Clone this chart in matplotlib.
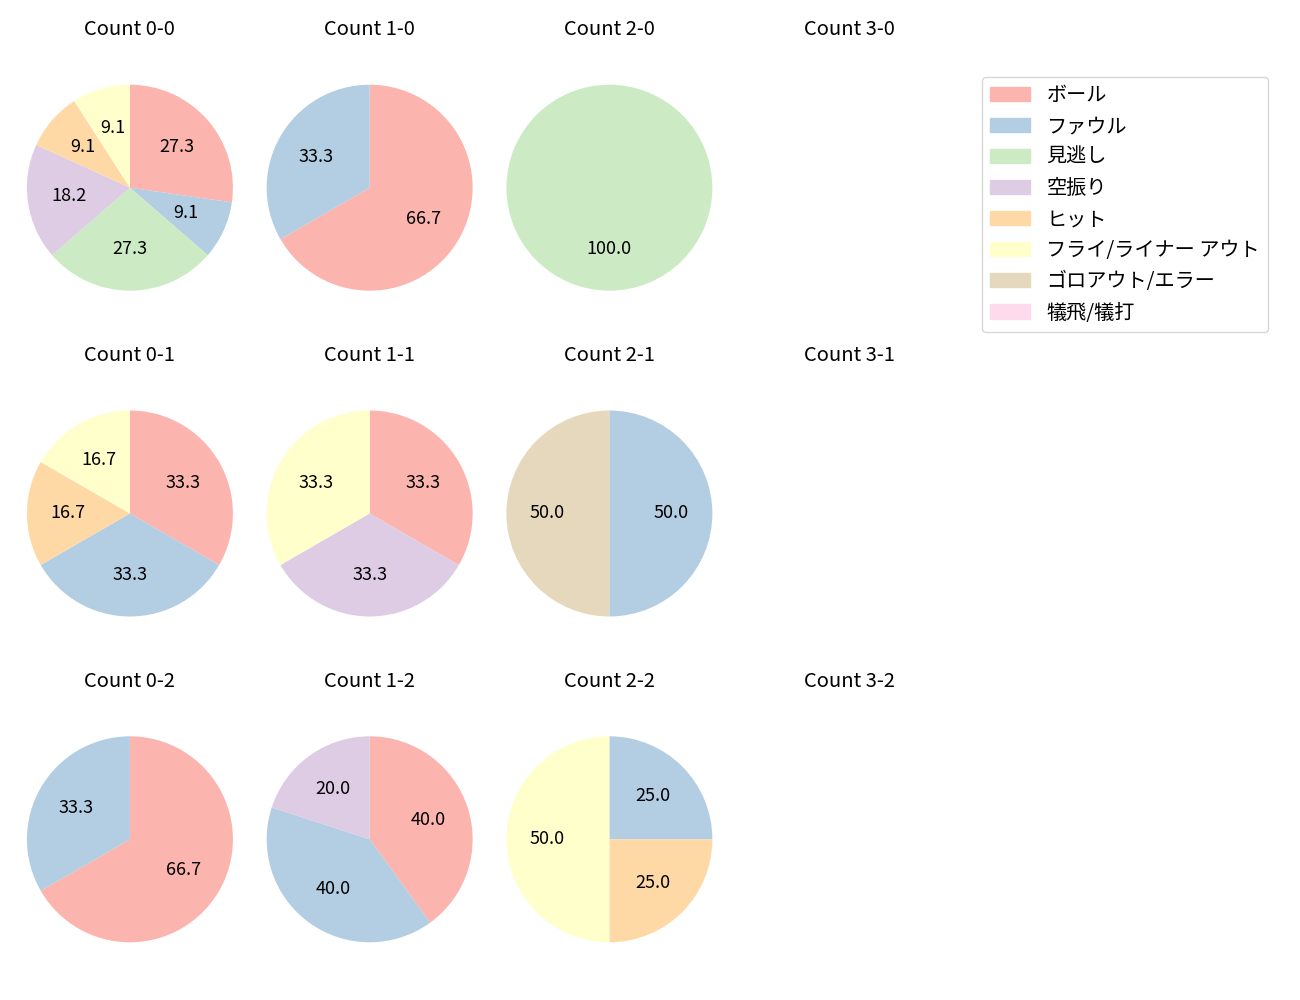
import matplotlib
matplotlib.use("Agg")
import matplotlib.pyplot as plt

plt.rcParams['font.family'] = ['Noto Sans CJK JP', 'DejaVu Sans']

categories = ['ボール', 'ファウル', '見逃し', '空振り', 'ヒット',
              'フライ/ライナー アウト', 'ゴロアウト/エラー', '犠飛/犠打']
colors = ['#fbb4ae', '#b3cde3', '#ccebc5', '#decbe4', '#fed9a6',
          '#ffffcc', '#e5d8bd', '#fddaec']

counts = {
    'Count 0-0': [3, 1, 3, 2, 1, 1, 0, 0],
    'Count 1-0': [2, 1, 0, 0, 0, 0, 0, 0],
    'Count 2-0': [0, 0, 1, 0, 0, 0, 0, 0],
    'Count 3-0': [0, 0, 0, 0, 0, 0, 0, 0],
    'Count 0-1': [2, 2, 0, 0, 1, 1, 0, 0],
    'Count 1-1': [1, 0, 0, 1, 0, 1, 0, 0],
    'Count 2-1': [0, 1, 0, 0, 0, 0, 1, 0],
    'Count 3-1': [0, 0, 0, 0, 0, 0, 0, 0],
    'Count 0-2': [2, 1, 0, 0, 0, 0, 0, 0],
    'Count 1-2': [2, 2, 0, 1, 0, 0, 0, 0],
    'Count 2-2': [0, 1, 0, 0, 1, 2, 0, 0],
    'Count 3-2': [0, 0, 0, 0, 0, 0, 0, 0],
}

fig, axes = plt.subplots(3, 4, figsize=(13, 10), dpi=100)
fig.subplots_adjust(left=0.0128, right=0.7403, top=0.955, bottom=0.018,
                    wspace=0.058, hspace=0.1416)

for ax, (title, vals) in zip(axes.flat, counts.items()):
    ax.set_title(title, fontsize=14.5, pad=7)
    if sum(vals) == 0:
        ax.axis('off')
        continue
    v = [x for x in vals if x > 0]
    c = [colors[i] for i, x in enumerate(vals) if x > 0]
    ax.pie(v, colors=c, autopct='%1.1f', startangle=90, counterclock=False,
           textprops={'fontsize': 13})
    ax.set_xlim(-1.1, 1.1)
    ax.set_ylim(-1.1, 1.1)
    ax.set_aspect('equal', adjustable='datalim')

handles = [plt.Rectangle((0, 0), 1, 1, color=col) for col in colors]
fig.legend(handles, categories, loc='upper left',
           bbox_to_anchor=(982 / 1300, 1 - 77 / 1000), fontsize=14.5,
           borderaxespad=0)

fig.savefig('out.png', dpi=100)
